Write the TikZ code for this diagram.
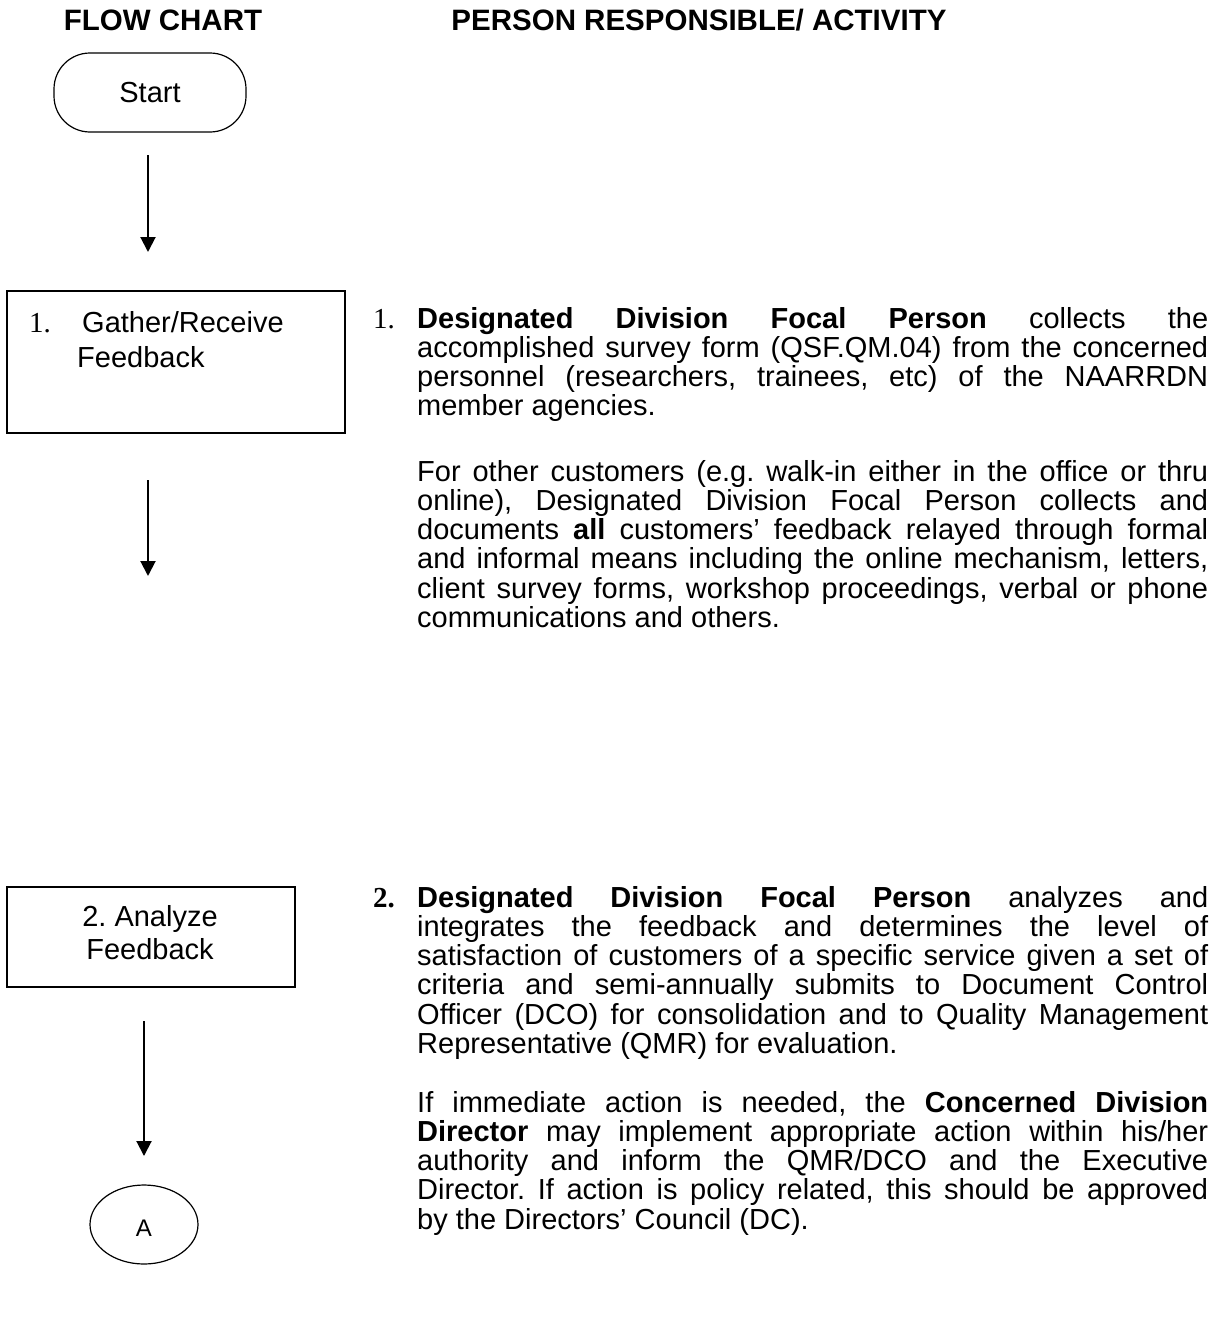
\documentclass[tikz,border=0pt]{standalone}
\usepackage{fontspec}
\setmainfont{Liberation Sans}
\newfontfamily\tnr{Liberation Serif}
\usetikzlibrary{arrows.meta,shapes.geometric}
\frenchspacing
\newcommand{\parsetup}{\tolerance=10000\relax\hyphenpenalty=10000\relax\exhyphenpenalty=10000\relax\hbadness=10000\relax\frenchspacing}
\tikzset{
  flowarrow/.style={line width=2pt, -{Triangle[width=15pt,length=15pt]}},
  boxshape/.style={draw, line width=1.4pt, rectangle, inner sep=0pt},
  big/.style={font=\fontsize{29}{35}\selectfont},
  txt/.style={anchor=base west, inner sep=0pt, big},
  numtxt/.style={anchor=base west, inner sep=0pt, font=\tnr\fontsize{29}{35}\selectfont},
  bodytext/.style={anchor=base west, inner sep=0pt, text width=791pt, align=justify,
    font=\fontsize{29}{29.3}\selectfont, execute at begin node=\parsetup},
  head/.style={anchor=base, inner sep=0pt, font=\bfseries\fontsize{29.5}{35}\selectfont}
}
\begin{document}
\begin{tikzpicture}[x=1pt,y=-1pt]
\fill[white] (0,0) rectangle (1218,1325);
\useasboundingbox (0,0) rectangle (1218,1325);

% headers
\node[head] (h1) at (163,30) {FLOW CHART};
\node[head] (h2) at (699,30) {PERSON RESPONSIBLE/ ACTIVITY};

% flow chart shapes
\node[draw, line width=1.2pt, rounded corners=36pt, minimum width=192pt, minimum height=79pt, inner sep=0pt, big] (start) at (150,92.5) {Start};
\node[boxshape, minimum width=338pt, minimum height=142pt] (box1) at (176,362) {};
\node[numtxt] (b1n) at (29,332) {1.};
\node[txt] (b1a) at (82,332) {Gather/Receive};
\node[txt] (b1b) at (77,367) {Feedback};

\node[boxshape, minimum width=288pt, minimum height=100pt] (box2) at (151,937) {};
\node[anchor=base, inner sep=0pt, big] (b2a) at (150,926) {2. Analyze};
\node[anchor=base, inner sep=0pt, big] (b2b) at (150,959) {Feedback};

\node[draw, ellipse, line width=1.2pt, minimum width=108pt, minimum height=79pt, inner sep=0pt,
      font=\fontsize{24}{28}\selectfont, text height=23pt, text depth=0pt] (conA) at (144,1224.5) {A};

% arrows
\coordinate (a1s) at (148,155);
\coordinate (a1e) at (148,252);
\coordinate (a2s) at (148,480);
\coordinate (a2e) at (148,576);
\coordinate (a3s) at (144,1021);
\coordinate (a3e) at (144,1156);
\draw[flowarrow] (a1s) -- (a1e);
\draw[flowarrow] (a2s) -- (a2e);
\draw[flowarrow] (a3s) -- (a3e);

% right column text
\node[numtxt] (n1) at (373,328) {1.};
\node[bodytext] (p1) at (417,328) {\textbf{Designated Division Focal Person} collects the\linebreak
accomplished survey form (QSF.QM.04) from the concerned\linebreak
personnel (researchers, trainees, etc) of the NAARRDN\linebreak
member agencies.};

\node[bodytext] (p1b) at (417,481) {For other customers (e.g. walk-in either in the office or thru\linebreak
online), Designated Division Focal Person collects and\linebreak
documents \textbf{all} customers' feedback relayed through formal\linebreak
and informal means including the online mechanism, letters,\linebreak
client survey forms, workshop proceedings, verbal or phone\linebreak
communications and others.};

\node[numtxt, font=\tnr\bfseries\fontsize{29}{35}\selectfont] (n2) at (373,907) {2.};
\node[bodytext] (p2) at (417,907) {\textbf{Designated Division Focal Person} analyzes and\linebreak
integrates the feedback and determines the level of\linebreak
satisfaction of customers of a specific service given a set of\linebreak
criteria and semi-annually submits to Document Control\linebreak
Officer (DCO) for consolidation and to Quality Management\linebreak
Representative (QMR) for evaluation.};

\node[bodytext] (p2b) at (417,1112) {If immediate action is needed, the \textbf{Concerned Division}\linebreak
\textbf{Director} may implement appropriate action within his/her\linebreak
authority and inform the QMR/DCO and the Executive\linebreak
Director. If action is policy related, this should be approved\linebreak
by the Directors' Council (DC).};
\end{tikzpicture}
\end{document}
